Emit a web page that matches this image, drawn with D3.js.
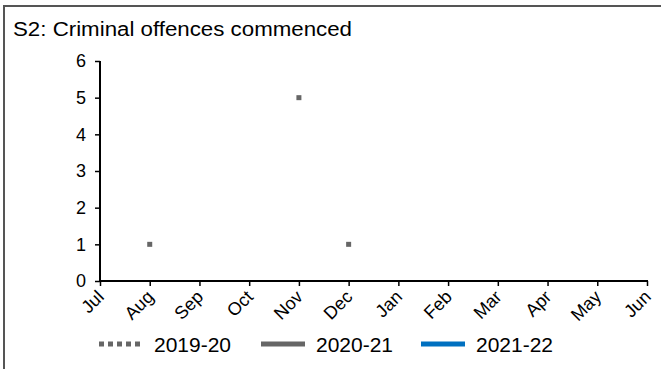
<!DOCTYPE html>
<html><head><meta charset="utf-8">
<script src="https://cdn.jsdelivr.net/npm/d3@7"></script>
<style>body{margin:0;background:#fff;}svg{display:block;font-family:"Liberation Sans",Arial,sans-serif;}</style>
</head><body>
<script>
const months = ["Jul","Aug","Sep","Oct","Nov","Dec","Jan","Feb","Mar","Apr","May","Jun"];
const values2019 = [null,1,null,null,5,1,null,null,null,null,null,null];
const values2020 = [null,null,null,null,null,null,null,null,null,null,null,null];
const values2021 = [null,null,null,null,null,null,null,null,null,null,null,null];
const yTicks = [0,1,2,3,4,5,6];
const seriesNames = ["2019-20","2020-21","2021-22"];
const seriesColors = ["#666666","#666666","#0070C0"];
const title = "S2: Criminal offences commenced";

const W = 661, H = 369;
const svg = d3.select("body").append("svg").attr("width", W).attr("height", H);

// border
svg.append("rect").attr("x",4).attr("y",6).attr("width",W+10).attr("height",H+10)
  .attr("fill","none").attr("stroke","#555").attr("stroke-width",2);

svg.append("text").attr("x",13).attr("y",36).attr("font-size",20).attr("fill","#000")
  .attr("textLength",339).attr("lengthAdjust","spacingAndGlyphs").text(title);

const x = d3.scalePoint().domain(months).range([100,647]);
const y = d3.scaleLinear().domain([0,6]).range([281,61]);

const yAxis = svg.append("g").attr("transform","translate(100,0)")
  .call(d3.axisLeft(y).tickValues(yTicks).tickSize(5).tickPadding(9).tickFormat(d3.format("d")));
yAxis.selectAll("text").attr("font-size",18).attr("fill","#000").attr("font-family","Liberation Sans, Arial, sans-serif");

const xAxis = svg.append("g").attr("transform","translate(0,281)")
  .call(d3.axisBottom(x).tickSize(5).tickFormat(""));

[yAxis, xAxis].forEach(g => {
  g.select(".domain").attr("stroke","#000").attr("stroke-width",2);
  g.selectAll(".tick line").attr("stroke","#000").attr("stroke-width",1.5);
});
xAxis.select(".domain").attr("d","M100,0H648");
yAxis.select(".domain").attr("d","M0,61V282");

// x labels rotated
svg.append("g").selectAll("text").data(months).join("text")
  .attr("transform", d => `translate(${x(d)+5},${298}) rotate(-45)`)
  .attr("text-anchor","end").attr("font-size",18).attr("fill","#000").text(d => d);

// series 2019-20 markers
const pts = months.map((m,i)=>({m, v: values2019[i]})).filter(d => d.v != null);
svg.append("g").selectAll("rect").data(pts).join("rect")
  .attr("x", d => x(d.m)-2.5).attr("y", d => y(d.v)-2.5)
  .attr("width",5).attr("height",5).attr("fill","#666");

// other series lines (no data)
[values2020, values2021].forEach((vals, k) => {
  const line = d3.line().defined(d => d != null).x((d,i)=>x(months[i])).y(d=>y(d));
  svg.append("path").datum(vals).attr("d", line).attr("fill","none")
    .attr("stroke", seriesColors[k+1]).attr("stroke-width",3);
});

// legend
const legX = [99, 261, 421];
const lg = svg.append("g");
seriesNames.forEach((n,i) => {
  const ln = lg.append("line").attr("x1",legX[i]).attr("x2",legX[i]+44)
    .attr("y1",344).attr("y2",344).attr("stroke",seriesColors[i]).attr("stroke-width",5);
  if (i===0) ln.attr("stroke-dasharray","5,4");
  lg.append("text").attr("x",legX[i]+55).attr("y",352).attr("font-size",20).attr("fill","#000")
    .attr("textLength",77).attr("lengthAdjust","spacingAndGlyphs").text(n);
});
</script>
</body></html>
